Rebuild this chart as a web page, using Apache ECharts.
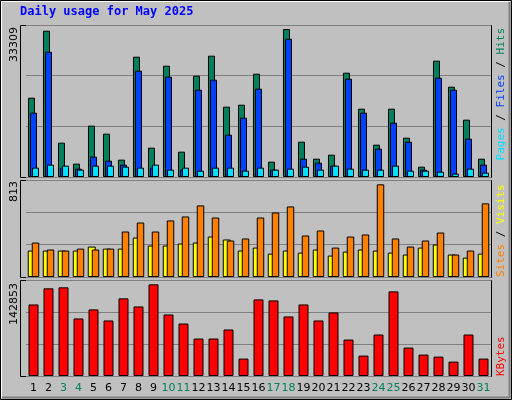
<!DOCTYPE html>
<html><head><meta charset="utf-8">
<script src="https://cdn.jsdelivr.net/npm/echarts@6/dist/echarts.min.js"></script>
<style>html,body{margin:0;padding:0;background:#c0c0c0}#c{width:512px;height:400px}</style>
</head><body><div id="c"></div>
<script>
const days = ['1','2','3','4','5','6','7','8','9','10','11','12','13','14','15','16','17','18','19','20','21','22','23','24','25','26','27','28','29','30','31'];
const weekend = ['3','4','10','11','17','18','24','25','31'];
const hits = [17850,32925,7725,3000,11550,9750,3900,27075,6600,25050,5700,22800,27300,15825,16275,23250,3450,33309,7950,4125,5025,23475,15375,7275,15375,8850,2325,26175,20325,12900,4125];
const files = [14475,28200,2100,1875,4575,3675,2775,23925,2100,22575,1650,19650,21900,9525,13350,19875,1650,31125,4125,3225,2550,22125,14475,6375,12225,7950,1650,22350,19650,8625,2775];
const pages = [2100,2775,2550,1650,2550,2550,2325,2100,2775,1650,2100,1425,2100,2100,1425,2100,1650,1875,2325,1650,2550,1875,1650,1650,2550,1425,1425,1200,750,1875,975];
const visits = [232,232,232,232,267,249,249,346,276,276,294,302,355,329,232,258,205,232,214,241,188,223,241,232,214,197,258,285,197,170,205];
const sites = [302,241,232,249,241,249,399,478,399,496,531,628,522,320,338,522,566,619,364,408,258,355,373,813,338,267,320,390,197,232,646];
const kbytes = [111500,136600,138200,89700,103800,86550,121000,108400,142853,95900,81850,58400,58400,72500,27100,119400,117800,92800,111500,86550,99100,56800,31800,64650,131900,44300,33400,30200,22400,64650,27100];
const maxLabels = ['33309','813','142853'];

const chart = echarts.init(document.getElementById('c'), null, {renderer:'canvas'});
const mono = 'DejaVu Sans Mono';
const grids = [
  {left:26, width:465, top:25, height:152},
  {left:26, width:465, top:180, height:97},
  {left:26, width:465, top:280, height:96}
];
const ymax = [34210, 851, 149640];
const xAxes = grids.map((g,i)=>({
  type:'category', gridIndex:i, data:days,
  axisLine:{show:false}, axisTick:{show:false},
  axisLabel:{show:i===2, interval:0, margin:7, fontFamily:'DejaVu Sans', fontSize:11,
    color:(v)=>weekend.includes(v)?'#00805c':'#000000'}
}));
const yAxes = grids.map((g,i)=>({
  type:'value', gridIndex:i, min:0, max:ymax[i], interval:ymax[i]/3,
  axisLabel:{show:false}, axisLine:{show:false}, axisTick:{show:false},
  splitLine:{show:true, lineStyle:{color:'#808080', width:1}}
}));
const bs = (name,data,color,gi,w,gap)=>({
  name, type:'bar', data, xAxisIndex:gi, yAxisIndex:gi, barWidth:w, barGap:gap,
  itemStyle:{color, borderColor:'#000', borderWidth:1}, animation:false, silent:true
});
const panels = [[20,25,471,152],[20,180,471,97],[20,280,471,96]];
chart.setOption({
  backgroundColor:'#c0c0c0',
  animation:false,
  grid:grids,
  xAxis:xAxes, yAxis:yAxes,
  series:[
    bs('Hits',hits,'#00805c',0,7,'-71%'),
    bs('Files',files,'#0040ff',0,7,'-71%'),
    bs('Pages',pages,'#00e0ff',0,7,'-71%'),
    bs('Visits',visits,'#ffff00',1,8,'-50%'),
    bs('Sites',sites,'#ff8000',1,7.5,'-50%'),
    bs('KBytes',kbytes,'#ff0000',2,10,'0%')
  ],
  graphic:[
    {type:'rect', z:-10, shape:{x:0.5,y:0.5,width:511,height:399}, style:{fill:'#c0c0c0', stroke:'#000'}},
    {type:'polyline', z:-9, shape:{points:[[1.5,398],[1.5,1.5],[510,1.5]]}, style:{stroke:'#fff', fill:null}},
    {type:'polyline', z:-9, shape:{points:[[2,397.5],[509.5,397.5],[509.5,2]]}, style:{stroke:'#808080', fill:null, lineWidth:2}},
    ...panels.map(p=>({type:'rect', z:-5, shape:{x:p[0]+0.5,y:p[1]+0.5,width:p[2],height:p[3]}, style:{fill:'#c0c0c0', stroke:'#000'}})),
    {type:'text', left:20, top:6, style:{text:'Daily usage for May 2025', fill:'#0000ff', font:'bold 12px "DejaVu Sans Mono"'}},
    {type:'text', x:14, y:27, rotation:Math.PI/2, style:{text:maxLabels[0], fill:'#000', font:'11px "DejaVu Sans"', align:'right', verticalAlign:'middle'}},
    {type:'text', x:14, y:181, rotation:Math.PI/2, style:{text:maxLabels[1], fill:'#000', font:'11px "DejaVu Sans"', align:'right', verticalAlign:'middle'}},
    {type:'text', x:14, y:283, rotation:Math.PI/2, style:{text:maxLabels[2], fill:'#000', font:'11px "DejaVu Sans"', align:'right', verticalAlign:'middle'}},
    {type:'text', x:501, y:28, rotation:Math.PI/2, style:{text:'{p|Pages} / {f|Files} / {h|Hits}', font:'11px "DejaVu Sans Mono"', fill:'#000', align:'right', verticalAlign:'middle',
      rich:{p:{fill:'#00e0ff',font:'11px "DejaVu Sans Mono"'},f:{fill:'#0040ff',font:'11px "DejaVu Sans Mono"'},h:{fill:'#00805c',font:'11px "DejaVu Sans Mono"'}}}},
    {type:'text', x:501, y:277, rotation:Math.PI/2, style:{text:'{s|Sites} / {v|Visits}', font:'11px "DejaVu Sans Mono"', fill:'#000', align:'left', verticalAlign:'middle',
      rich:{s:{fill:'#ff8000',font:'11px "DejaVu Sans Mono"'},v:{fill:'#ffff00',font:'11px "DejaVu Sans Mono"'}}}},
    {type:'text', x:501, y:376, rotation:Math.PI/2, style:{text:'KBytes', fill:'#ff0000', font:'11px "DejaVu Sans Mono"', align:'left', verticalAlign:'middle'}}
  ]
});
</script></body></html>
